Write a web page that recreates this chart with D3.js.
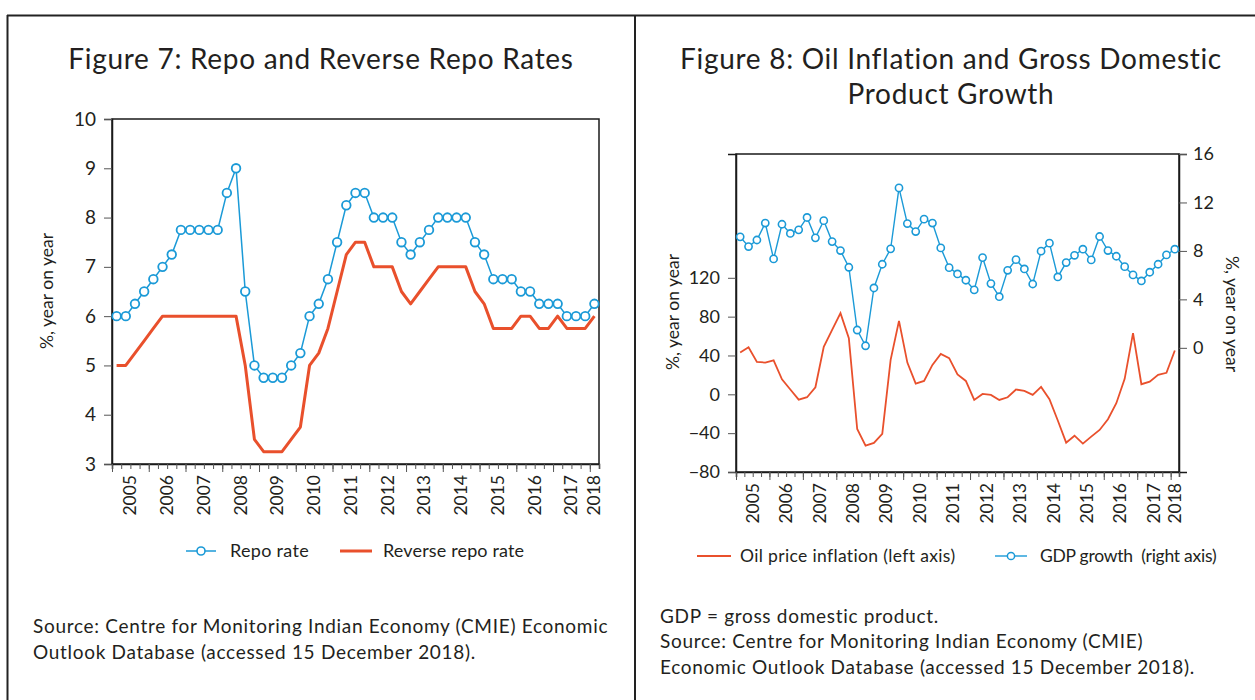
<!DOCTYPE html>
<html><head><meta charset="utf-8">
<script src="https://cdn.jsdelivr.net/npm/d3@7"></script>
<style>
html,body{margin:0;padding:0;background:#fff;}
svg{display:block;font-family:Lato,"Open Sans",sans-serif;}
text{fill:#231f20;}
</style></head>
<body>
<svg id="c" width="1255" height="700"></svg>
<script>
// ---------- data ----------
const years = [2005,2006,2007,2008,2009,2010,2011,2012,2013,2014,2015,2016,2017,2018];
const quarters = years.flatMap(y => y === 2018 ? [y + "Q1"] : [1,2,3,4].map(q => y + "Q" + q));

const repoRate = [6.0,6.0,6.25,6.5,6.75,7.0,7.25,7.75,7.75,7.75,7.75,7.75,8.5,9.0,6.5,5.0,4.75,4.75,4.75,5.0,5.25,6.0,6.25,6.75,7.5,8.25,8.5,8.5,8.0,8.0,8.0,7.5,7.25,7.5,7.75,8.0,8.0,8.0,8.0,7.5,7.25,6.75,6.75,6.75,6.5,6.5,6.25,6.25,6.25,6.0,6.0,6.0,6.25];
const reverseRepoRate = [5.0,5.0,5.25,5.5,5.75,6.0,6.0,6.0,6.0,6.0,6.0,6.0,6.0,6.0,5.0,3.5,3.25,3.25,3.25,3.5,3.75,5.0,5.25,5.75,6.5,7.25,7.5,7.5,7.0,7.0,7.0,6.5,6.25,6.5,6.75,7.0,7.0,7.0,7.0,6.5,6.25,5.75,5.75,5.75,6.0,6.0,5.75,5.75,6.0,5.75,5.75,5.75,6.0];

const oilInflation = [43,48.5,33.4,32.7,35,15.5,5,-5.5,-3,7.3,49,66.4,83.6,57.8,-35.7,-52.9,-50,-40.8,35.5,75.7,32.7,11,13.8,30.3,41.6,37.2,20.4,13.8,-5.8,0.4,-0.6,-5.8,-3,5,3.5,-0.6,7.6,-5,-27,-49.8,-42.6,-50.8,-43.6,-36.7,-25.7,-9.2,15.9,63,10.4,13.1,20,22.1,45.1];
const gdpGrowth = [9.16,8.36,8.9,10.3,7.34,10.2,9.44,9.74,10.76,9.08,10.5,8.77,8.03,6.65,1.47,0.17,4.94,6.9,8.17,13.2,10.26,9.6,10.62,10.3,8.25,6.62,6.1,5.58,4.78,7.45,5.3,4.22,6.4,7.28,6.51,5.27,7.98,8.64,5.85,7.04,7.64,8.14,7.26,9.19,8.03,7.56,6.7,6.02,5.52,6.24,6.9,7.67,8.14];

const leftTicks7 = [3,4,5,6,7,8,9,10];
const leftTicks8 = [-80,-40,0,40,80,120];
const rightTicks8 = [0,4,8,12,16];

// ---------- styles ----------
const BLUE = "#1b9ad7", RED = "#e9502c", AX = "#1a1a1a", TICK = "#555";
const svg = d3.select("#c");
const fmt = d => d < 0 ? "\u2212" + Math.abs(d) : String(d);

// frame lines
svg.append("line").attr("x1",7).attr("x2",1255).attr("y1",15.5).attr("y2",15.5).attr("stroke","#222").attr("stroke-width",2);
svg.append("line").attr("x1",7.5).attr("x2",7.5).attr("y1",15).attr("y2",700).attr("stroke","#222").attr("stroke-width",2);
svg.append("line").attr("x1",635).attr("x2",635).attr("y1",15).attr("y2",700).attr("stroke","#222").attr("stroke-width",2);

function yearAxis(g, xs, y0) {
  const n = quarters.length;
  g.append("g").attr("transform",`translate(0,${y0})`)
    .call(d3.axisBottom(xs).tickValues(d3.range(0, n + 1)).tickSize(5).tickFormat(""))
    .call(s => s.select(".domain").attr("stroke",AX).attr("stroke-width",1.5))
    .call(s => s.selectAll(".tick line").attr("stroke",TICK));
  g.append("g").attr("transform",`translate(0,${y0})`)
    .call(d3.axisBottom(xs).tickValues(d3.range(0, n + 1, 4)).tickSize(8).tickFormat(""))
    .call(s => s.select(".domain").remove())
    .call(s => s.selectAll(".tick line").attr("stroke",TICK));
  const centers = years.map((yr, i) => yr === 2018 ? n - 0.5 : i * 4 + 2);
  g.selectAll("text.yr").data(years).join("text").attr("class","yr")
    .attr("transform",(d,i) => `translate(${xs(centers[i]) + 6},${y0 + 11}) rotate(-90)`)
    .attr("text-anchor","end").attr("font-size",17.5).text(d => d);
}

const TITLE = {size: 28, ls: 0.7};
const NOTE = {size: 19, ls: 0.7};

// =============== Figure 7 ===============
{
  const g = svg.append("g");
  const X0 = 112, X1 = 599, Y0 = 464, Y1 = 119;
  const x = d3.scaleLinear().domain([0, quarters.length]).range([X0, X1]);
  const y = d3.scaleLinear().domain([3, 10]).range([Y0, Y1]);

  g.append("text").attr("x",321).attr("y",69).attr("text-anchor","middle")
    .attr("font-size",TITLE.size).attr("letter-spacing",TITLE.ls).text("Figure 7: Repo and Reverse Repo Rates");

  g.append("rect").attr("x",X0).attr("y",Y1).attr("width",X1-X0).attr("height",Y0-Y1).attr("fill","none").attr("stroke",AX).attr("stroke-width",1.5);

  g.append("g").attr("transform",`translate(${X0},0)`)
    .call(d3.axisLeft(y).tickValues(leftTicks7).tickSize(8).tickPadding(8).tickFormat(fmt))
    .call(s => s.select(".domain").attr("stroke",AX).attr("stroke-width",1.5))
    .call(s => s.selectAll(".tick line").attr("stroke",TICK))
    .call(s => s.selectAll(".tick text").attr("font-size",19).attr("font-family","Lato,sans-serif").attr("fill","#231f20"));

  yearAxis(g, x, Y0);

  g.append("text").attr("transform","translate(53,291) rotate(-90)").attr("text-anchor","middle").attr("font-size",17.5).text("%, year on year");

  const line = d3.line().x((d,i) => x(i + 0.5)).y(d => y(d));
  g.append("path").datum(reverseRepoRate).attr("d",line).attr("fill","none").attr("stroke",RED).attr("stroke-width",3).attr("stroke-linejoin","round");
  g.append("path").datum(repoRate).attr("d",line).attr("fill","none").attr("stroke",BLUE).attr("stroke-width",1.5);
  g.selectAll("circle.r").data(repoRate).join("circle").attr("class","r")
    .attr("cx",(d,i) => x(i + 0.5)).attr("cy",d => y(d)).attr("r",4.3)
    .attr("fill","#fff").attr("stroke",BLUE).attr("stroke-width",1.8);

  const ly = 551;
  g.append("line").attr("x1",186).attr("x2",216).attr("y1",ly).attr("y2",ly).attr("stroke",BLUE).attr("stroke-width",1.5);
  g.append("circle").attr("cx",201).attr("cy",ly).attr("r",4).attr("fill","#fff").attr("stroke",BLUE).attr("stroke-width",1.6);
  g.append("text").attr("x",230).attr("y",ly+6).attr("font-size",18).attr("letter-spacing",0.3).text("Repo rate");
  g.append("line").attr("x1",340).attr("x2",372).attr("y1",ly).attr("y2",ly).attr("stroke",RED).attr("stroke-width",3);
  g.append("text").attr("x",383).attr("y",ly+6).attr("font-size",18).attr("letter-spacing",0.15).text("Reverse repo rate");

  g.append("text").attr("x",33).attr("y",633).attr("font-size",NOTE.size).attr("letter-spacing",NOTE.ls).text("Source: Centre for Monitoring Indian Economy (CMIE) Economic");
  g.append("text").attr("x",33).attr("y",659).attr("font-size",NOTE.size).attr("letter-spacing",NOTE.ls).text("Outlook Database (accessed 15 December 2018).");
}

// =============== Figure 8 ===============
{
  const g = svg.append("g");
  const X0 = 736, X1 = 1179, Y0 = 472, Y1 = 154;
  const x = d3.scaleLinear().domain([0, quarters.length]).range([X0, X1]);
  const yL = d3.scaleLinear().domain([-80, 247.5]).range([Y0, Y1]);
  const yR = d3.scaleLinear().domain([-10.25, 16]).range([Y0, Y1]);

  g.append("text").attr("x",951).attr("y",69).attr("text-anchor","middle")
    .attr("font-size",TITLE.size).attr("letter-spacing",TITLE.ls).text("Figure 8: Oil Inflation and Gross Domestic");
  g.append("text").attr("x",951).attr("y",104).attr("text-anchor","middle")
    .attr("font-size",TITLE.size).attr("letter-spacing",TITLE.ls).text("Product Growth");

  g.append("rect").attr("x",X0).attr("y",Y1).attr("width",X1-X0).attr("height",Y0-Y1).attr("fill","none").attr("stroke",AX).attr("stroke-width",1.5);

  g.append("g").attr("transform",`translate(${X0},0)`)
    .call(d3.axisLeft(yL).tickValues(leftTicks8).tickSize(8).tickPadding(8).tickFormat(fmt))
    .call(s => s.select(".domain").attr("stroke",AX).attr("stroke-width",1.5))
    .call(s => s.selectAll(".tick line").attr("stroke",TICK))
    .call(s => s.selectAll(".tick text").attr("font-size",18).attr("font-family","Lato,sans-serif").attr("fill","#231f20"));
  g.append("g").attr("transform",`translate(${X1},0)`)
    .call(d3.axisRight(yR).tickValues(rightTicks8).tickSize(8).tickPadding(6).tickFormat(fmt))
    .call(s => s.select(".domain").attr("stroke",AX).attr("stroke-width",1.5))
    .call(s => s.selectAll(".tick line").attr("stroke",TICK))
    .call(s => s.selectAll(".tick text").attr("font-size",18).attr("font-family","Lato,sans-serif").attr("fill","#231f20"));

  yearAxis(g, x, Y0);

  g.append("text").attr("transform","translate(679,312) rotate(-90)").attr("text-anchor","middle").attr("font-size",17.5).text("%, year on year");
  g.append("text").attr("transform","translate(1226,314) rotate(90)").attr("text-anchor","middle").attr("font-size",17.5).text("%, year on year");

  const lineL = d3.line().x((d,i) => x(i + 0.5)).y(d => yL(d));
  const lineR = d3.line().x((d,i) => x(i + 0.5)).y(d => yR(d));
  g.append("path").datum(oilInflation).attr("d",lineL).attr("fill","none").attr("stroke",RED).attr("stroke-width",1.8);
  g.append("path").datum(gdpGrowth).attr("d",lineR).attr("fill","none").attr("stroke",BLUE).attr("stroke-width",1.4);
  g.selectAll("circle.g").data(gdpGrowth).join("circle").attr("class","g")
    .attr("cx",(d,i) => x(i + 0.5)).attr("cy",d => yR(d)).attr("r",3.6)
    .attr("fill","#fff").attr("stroke",BLUE).attr("stroke-width",1.6);

  const ly = 556;
  g.append("line").attr("x1",697).attr("x2",731).attr("y1",ly).attr("y2",ly).attr("stroke",RED).attr("stroke-width",2);
  g.append("text").attr("x",740).attr("y",ly+6).attr("font-size",17.5).attr("letter-spacing",0.35).text("Oil price inflation (left axis)");
  g.append("line").attr("x1",995).attr("x2",1027).attr("y1",ly).attr("y2",ly).attr("stroke",BLUE).attr("stroke-width",1.4);
  g.append("circle").attr("cx",1011).attr("cy",ly).attr("r",3.6).attr("fill","#fff").attr("stroke",BLUE).attr("stroke-width",1.5);
  g.append("text").attr("x",1040).attr("y",ly+6).attr("font-size",17.5).attr("letter-spacing",-0.25).style("white-space","pre").text("GDP growth  (right axis)");

  g.append("text").attr("x",660).attr("y",623).attr("font-size",NOTE.size).attr("letter-spacing",NOTE.ls).text("GDP = gross domestic product.");
  g.append("text").attr("x",660).attr("y",648).attr("font-size",NOTE.size).attr("letter-spacing",NOTE.ls).text("Source: Centre for Monitoring Indian Economy (CMIE)");
  g.append("text").attr("x",660).attr("y",674).attr("font-size",NOTE.size).attr("letter-spacing",NOTE.ls).text("Economic Outlook Database (accessed 15 December 2018).");
}
</script>
</body></html>
